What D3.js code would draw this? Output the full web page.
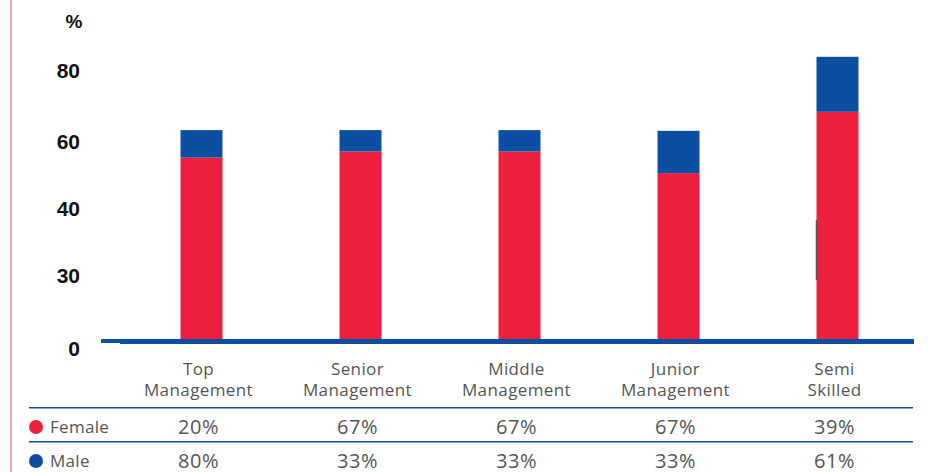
<!DOCTYPE html>
<html>
<head>
<meta charset="utf-8">
<script src="https://cdn.jsdelivr.net/npm/d3@7"></script>
<style>
  html, body { margin: 0; padding: 0; background: #fff; }
  svg { display: block; }
  .tick-label { font-family: "Liberation Sans", Arial, sans-serif; font-weight: bold; font-size: 21px; fill: #111; }
  .cat-label { font-family: "Open Sans", sans-serif; font-size: 17px; letter-spacing: 0.4px; fill: #555; }
  .cell { font-family: "Open Sans", sans-serif; font-size: 20px; letter-spacing: 0.6px; fill: #555; }
  .legend-label { font-family: "Open Sans", sans-serif; font-size: 17px; letter-spacing: 0.3px; fill: #555; }
</style>
</head>
<body>
<div id="chart"></div>
<script>
// categories (two-line labels)
var categories = ['Top Management', 'Senior Management', 'Middle Management', 'Junior Management', 'Semi Skilled'];
var categoryLines = [['Top', 'Management'], ['Senior', 'Management'], ['Middle', 'Management'], ['Junior', 'Management'], ['Semi', 'Skilled']];
// bar heights as drawn, read against the y axis
var femaleBar = [53.0, 54.8, 54.8, 48.4, 66.3];
var maleBar   = [8.1, 6.3, 6.3, 12.5, 15.6];
// table values
var femaleShare = ['20%', '67%', '67%', '67%', '39%'];
var maleShare   = ['80%', '33%', '33%', '33%', '61%'];
// y axis tick labels (unevenly valued, evenly spaced)
var yTicks = [0, 30, 40, 60, 80];
var seriesNames = ['Female', 'Male'];

var width = 928, height = 472;
var red = '#ec1f3c', blue = '#0b4ea2';

var svg = d3.select('#chart').append('svg')
  .attr('width', width)
  .attr('height', height);

// left border line
svg.append('line')
  .attr('x1', 11).attr('x2', 11)
  .attr('y1', 0).attr('y2', height)
  .attr('stroke', '#f28b9b')
  .attr('stroke-width', 1.5);

// scales
var x = d3.scalePoint()
  .domain(categories)
  .range([122, 917])
  .padding(0.5);

var y = d3.scaleLinear()
  .domain(yTicks)
  .range([341.5, 268, 201.5, 134, 63.5]);

var barWidth = 42;

// stacked data
var rows = categories.map(function (c, i) {
  return { cat: c, Female: femaleBar[i], Male: maleBar[i] };
});
var stack = d3.stack().keys(seriesNames)(rows);
var color = d3.scaleOrdinal().domain(seriesNames).range([red, blue]);

svg.append('g')
  .selectAll('g')
  .data(stack)
  .join('g')
  .attr('fill', function (d) { return color(d.key); })
  .selectAll('rect')
  .data(function (d) { return d; })
  .join('rect')
  .attr('x', function (d) { return x(d.data.cat) - barWidth / 2; })
  .attr('y', function (d) { return y(d[1]); })
  .attr('width', barWidth)
  .attr('height', function (d) { return y(d[0]) - y(d[1]); });

// y tick labels
svg.append('g')
  .selectAll('text')
  .data(yTicks)
  .join('text')
  .attr('class', 'tick-label')
  .attr('x', 80)
  .attr('y', function (d) { return y(d) + 7; })
  .attr('dy', '0.36em')
  .attr('text-anchor', 'end')
  .text(function (d) { return d; });

svg.append('text')
  .attr('class', 'tick-label')
  .attr('x', 74)
  .attr('y', 21)
  .attr('dy', '0.36em')
  .attr('text-anchor', 'middle')
  .style('font-size', '19px')
  .text('%');

// baseline
svg.append('rect')
  .attr('x', 101).attr('y', 339)
  .attr('width', 20).attr('height', 4)
  .attr('fill', blue);
svg.append('rect')
  .attr('x', 120).attr('y', y(0) - 2.5)
  .attr('width', 794).attr('height', 5)
  .attr('fill', blue);

// small stray mark near the last bar
svg.append('line')
  .attr('x1', 816.5).attr('x2', 816.5)
  .attr('y1', 220).attr('y2', 280)
  .attr('stroke', '#555')
  .attr('stroke-width', 1.5);

// category labels
var labelShift = -3;
var cat = svg.append('g')
  .selectAll('text')
  .data(categories)
  .join('text')
  .attr('class', 'cat-label')
  .attr('text-anchor', 'middle')
  .attr('x', function (d) { return x(d) + labelShift; })
  .attr('y', 375);
cat.selectAll('tspan')
  .data(function (d, i) { return categoryLines[i]; })
  .join('tspan')
  .attr('x', function () { return x(d3.select(this.parentNode).datum()) + labelShift; })
  .attr('dy', function (d, i) { return i === 0 ? 0 : 21; })
  .text(function (d) { return d; });

// table rules
[407.7, 441.7].forEach(function (ly) {
  svg.append('line')
    .attr('x1', 29).attr('x2', 913)
    .attr('y1', ly).attr('y2', ly)
    .attr('stroke', blue)
    .attr('stroke-width', 1.6);
});

// table rows
var tableRows = [
  { name: 'Female', values: femaleShare, y: 427 },
  { name: 'Male', values: maleShare, y: 461 }
];
tableRows.forEach(function (r) {
  svg.append('circle')
    .attr('cx', 36).attr('cy', r.y)
    .attr('r', 7)
    .attr('fill', color(r.name));
  svg.append('text')
    .attr('class', 'legend-label')
    .attr('x', 50).attr('y', r.y)
    .attr('dy', '0.36em')
    .text(r.name);
  svg.append('g')
    .selectAll('text')
    .data(r.values)
    .join('text')
    .attr('class', 'cell')
    .attr('text-anchor', 'middle')
    .attr('x', function (d, i) { return x(categories[i]) + labelShift; })
    .attr('y', r.y)
    .attr('dy', '0.36em')
    .text(function (d) { return d; });
});
</script>
</body>
</html>
